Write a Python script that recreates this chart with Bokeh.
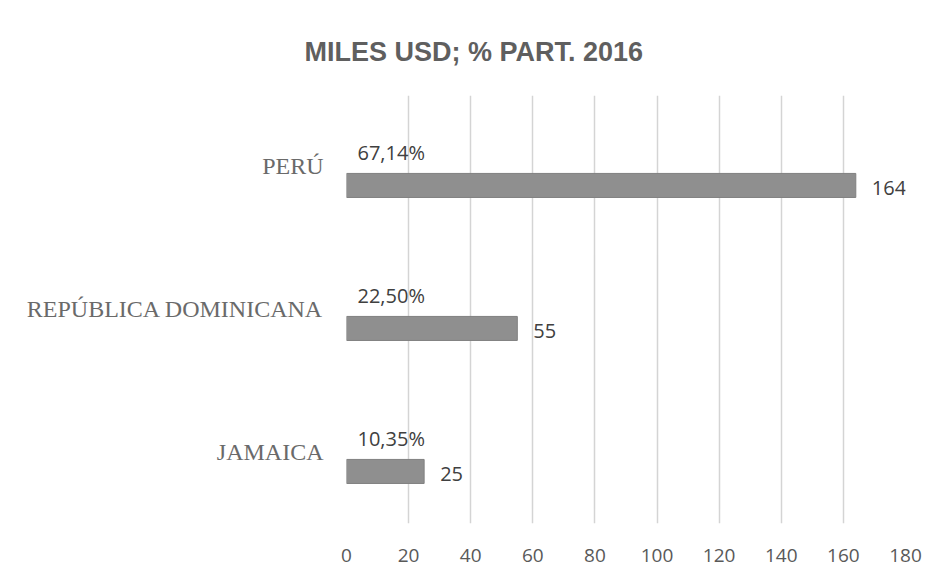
from bokeh.plotting import figure
from bokeh.models import Range1d, LinearAxis, FixedTicker, ColumnDataSource
from bokeh.core.properties import value
from bokeh.embed import file_html
from bokeh.resources import INLINE

# ---- data ----
categories = ["JAMAICA", "REPÚBLICA DOMINICANA", "PERÚ"]
values = [25, 55, 164]
shares = ["10,35%", "22,50%", "67,14%"]
x_ticks = [0, 20, 40, 60, 80, 100, 120, 140, 160, 180]
title_text = "MILES USD; % PART. 2016"

ypos = list(range(len(categories)))
src = ColumnDataSource(dict(y=ypos, v=values, cat=categories, share=shares,
                            vlab=[str(v) for v in values]))

label_shift = 19 / 143.0
y0, y1 = -0.364, 2.629

p = figure(width=935, height=573, output_backend="svg", toolbar_location=None,
           x_range=Range1d(0, 180), y_range=Range1d(y0, y1),
           y_axis_location=None,
           min_border_left=346, min_border_right=30,
           min_border_top=95, min_border_bottom=50)
p.background_fill_color = "white"
p.border_fill_color = "white"
p.outline_line_color = None

p.title.text = title_text
p.title.text_font = "Liberation Sans"
p.title.text_font_style = "bold"
p.title.text_font_size = "27px"
p.title.text_color = "#5f5f5f"
p.title.align = "left"
p.title.offset = -42
p.title.standoff = 58

# x axis
p.xaxis.ticker = FixedTicker(ticks=x_ticks)
p.xaxis.axis_line_color = None
p.xaxis.major_tick_line_color = None
p.xaxis.minor_tick_line_color = None
p.xaxis.major_label_text_font = "Open Sans"
p.xaxis.major_label_text_font_size = "19px"
p.xaxis.major_label_text_color = "#595959"
p.xaxis.major_label_standoff = 19

p.xgrid.ticker = FixedTicker(ticks=x_ticks)
p.xgrid.grid_line_color = "#d4d4d4"
p.xgrid.grid_line_width = 1.5
p.ygrid.grid_line_color = None

# category axis (shifted slightly above bars)
p.extra_y_ranges = {"lab": Range1d(y0 - label_shift, y1 - label_shift)}
yax = LinearAxis(y_range_name="lab", ticker=FixedTicker(ticks=ypos),
                 major_label_overrides={i: c for i, c in zip(ypos, categories)})
yax.axis_line_color = None
yax.major_tick_line_color = None
yax.minor_tick_line_color = None
yax.major_label_text_font = "Liberation Serif"
yax.major_label_text_font_size = "24px"
yax.major_label_text_color = "#6a6a6a"
yax.major_label_standoff = 17
p.add_layout(yax, "left")

# bars
p.hbar(y="y", right="v", left=0, height=0.168, source=src,
       fill_color="#8f8f8f", line_color="#808080", line_width=1)

# value labels
p.text(x="v", y="y", text="vlab", source=src, x_offset=16, y_offset=3,
       text_align="left", text_baseline="middle",
       text_font=value("Open Sans"), text_font_size="20px", text_color="#404040")

# share labels
p.text(x=0, y="y", text="share", source=src, x_offset=11, y_offset=-33,
       text_align="left", text_baseline="middle",
       text_font=value("Open Sans"), text_font_size="20px", text_color="#404040")

open("out.html", "w").write(file_html(p, INLINE))
